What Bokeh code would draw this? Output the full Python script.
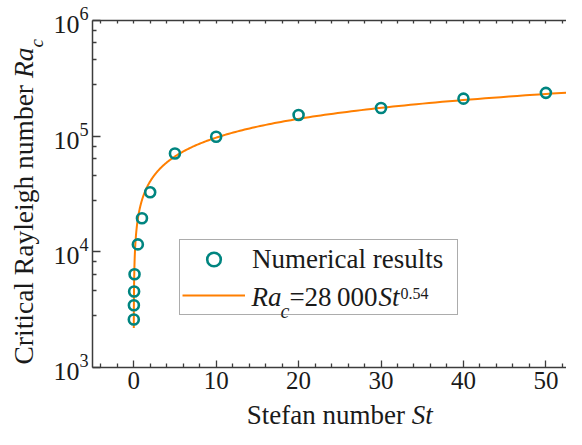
import numpy as np
from bokeh.plotting import figure
from bokeh.layouts import row, column
from bokeh.models import (FixedTicker, LinearAxis, Label, Legend, LegendItem,
                          LogTickFormatter)
from bokeh.embed import file_html
from bokeh.resources import INLINE

# ---------------- data ----------------
ST = [0.01, 0.02, 0.05, 0.1, 0.5, 1, 2, 5, 10, 20, 30, 40, 50]
RA = [2600, 3450, 4540, 6400, 11600, 19500, 32700, 70900, 98800,
      152500, 175300, 211000, 236800]
FIT_COEF = 28000
FIT_EXP = 0.54
FIT_ST_MIN = 0.009
FIT_ST_MAX = 53.0
X_TICKS = [0, 10, 20, 30, 40, 50]
X_MINOR = [-4, -2, 2, 4, 6, 8, 12, 14, 16, 18, 22, 24, 26, 28, 32, 34, 36, 38,
           42, 44, 46, 48, 52]
X_TOP = [-4, -2] + list(range(0, 53, 2))
Y_TICKS = [1e3, 1e4, 1e5, 1e6]
X_START, X_END = -5, 52.5
Y_START, Y_END = 1e3, 1e6

FONT = "Liberation Serif"
TXT = "#1a1a1a"
AX = "#3c3c3c"
TEAL = "#008580"
ORANGE = "#ff7f00"

# ---------------- layout sizes ----------------
W, H = 566, 429
LW = 48                 # left strip for y-axis title
MW = W - LW
MH = 399                # main plot height
BH = H - MH             # bottom strip for x-axis title
FRAME_L = 92 - LW
FRAME_T = 20
FRAME_B = 32
MID = 0.3375            # baseline offset of a "middle"-anchored text, in em

# minor log ticks (4 linear subdivisions per decade)
Y_MINOR = [d * (1 + 1.8 * k) for d in Y_TICKS[:-1] for k in range(1, 5)]

fit_st = np.geomspace(FIT_ST_MIN, FIT_ST_MAX, 400)
fit_ra = FIT_COEF * fit_st ** FIT_EXP

p = figure(width=MW, height=MH, x_range=(X_START, X_END),
           y_range=(Y_START, Y_END), y_axis_type="log",
           output_backend="svg", toolbar_location=None,
           min_border_left=FRAME_L, min_border_right=0, min_border_top=FRAME_T,
           min_border_bottom=FRAME_B, frame_align=False)
p.title.visible = False
p.outline_line_color = None
p.xgrid.visible = False
p.ygrid.visible = False

line_r = p.line(fit_st, fit_ra, line_color=ORANGE, line_width=2)
sc_r = p.scatter(ST, RA, marker="circle", size=10, fill_color=None,
                 line_color=TEAL, line_width=2.6)

# bottom axis
xa = p.xaxis[0]
xa.ticker = FixedTicker(ticks=X_TICKS, minor_ticks=X_MINOR)
xa.major_tick_in = 7
xa.major_tick_out = 0
xa.minor_tick_in = 4
xa.minor_tick_out = 0
xa.axis_line_width = 1.5
xa.axis_line_color = AX
xa.major_tick_line_color = AX
xa.minor_tick_line_color = AX
xa.major_tick_line_width = 1.3
xa.minor_tick_line_width = 1.3
xa.major_label_text_font = FONT
xa.major_label_text_font_size = "25px"
xa.major_label_text_color = TXT
xa.major_label_standoff = 4

# left axis
ya = p.yaxis[0]
ya.ticker = FixedTicker(ticks=Y_TICKS, minor_ticks=Y_MINOR)
ya.formatter = LogTickFormatter()
ya.major_tick_in = 8
ya.major_tick_out = 0
ya.minor_tick_in = 4
ya.minor_tick_out = 0
ya.axis_line_width = 1.5
ya.axis_line_color = AX
ya.major_tick_line_color = AX
ya.minor_tick_line_color = AX
ya.major_tick_line_width = 1.3
ya.minor_tick_line_width = 1.3
ya.major_label_text_font = FONT
ya.major_label_text_font_size = "26px"
ya.major_label_text_color = TXT
ya.major_label_standoff = 4

# top axis (ticks only)
top = LinearAxis(ticker=FixedTicker(ticks=X_TOP),
                 major_tick_in=3, major_tick_out=0, minor_tick_in=0, minor_tick_out=0,
                 major_label_text_font_size="0px", major_label_standoff=0,
                 axis_line_width=1.5, axis_line_color=AX, major_tick_line_color=AX,
                 major_tick_line_width=1.3)
top.major_label_overrides = {t: "" for t in X_TOP}
p.add_layout(top, "above")

# ---- text widths (Times metrics) for composing mixed-style labels ----
W_REG = {'C': .667, 'r': .333, 'i': .278, 't': .278, 'c': .444, 'a': .444, 'l': .278,
         ' ': .25, 'R': .667, 'y': .5, 'e': .444, 'g': .5, 'h': .5, 'n': .5, 'u': .5,
         'm': .778, 'b': .5, 'S': .556, 'f': .333, '=': .564, '.': .25,
         '0': .5, '2': .5, '8': .5, '5': .5, '4': .5, '\u2009': .2}
W_IT = {'R': .611, 'a': .5, 'c': .444, 'S': .5, 't': .278}


def tw(s, size, italic=False):
    tab = W_IT if italic else W_REG
    return sum(tab.get(ch, .5) for ch in s) * size


def lab(text, x, y, size, italic=False, angle=0.0, xo=0, yo=0, level="annotation"):
    return Label(x=x, y=y, x_offset=xo, y_offset=yo, text=text,
                 text_font=FONT, text_font_size=f"{size}px",
                 text_font_style="italic" if italic else "normal",
                 text_color=TXT, text_align="left", text_baseline="middle",
                 angle=angle, level=level)


# legend (transparent background so the formula text drawn in it shows)
LEG_X, LEG_Y = 87, 52
PAD, GW, STANDOFF, ROWH, SP = 2, 63, 7, 34, 2
legend = Legend(items=[LegendItem(label="Numerical results", renderers=[sc_r]),
                       LegendItem(label=" ", renderers=[line_r])],
                location=(LEG_X, LEG_Y), orientation="vertical",
                padding=PAD, spacing=SP, margin=0,
                glyph_width=GW, glyph_height=ROWH, label_height=ROWH,
                label_width=203, label_standoff=STANDOFF,
                label_text_font=FONT, label_text_font_size="27px",
                label_text_color=TXT,
                border_line_color="#5a5a5a", border_line_width=1.5,
                background_fill_alpha=0.0)
p.add_layout(legend, "center")

# formula text in legend: Ra_c = 28 000 St^0.54
FS, FSUB, FSUP = 27, 20, 16
fx = LEG_X + PAD + GW + STANDOFF
base = LEG_Y + PAD + ROWH / 2 - MID * FS          # baseline height above frame bottom
OV = "overlay"


def flab(text, xo, bl, size, italic=False):
    return lab(text, X_START, Y_START, size, italic=italic, xo=xo,
               yo=bl + MID * size, level=OV)


p.add_layout(flab("Ra", fx, base, FS, True))
fx2 = fx + tw("Ra", FS, True) - 1
p.add_layout(flab("c", fx2, base - 12, FSUB, True))
fx3 = fx2 + tw("c", FSUB, True)
p.add_layout(flab("=28\u2009000", fx3, base, FS))
fx4 = fx3 + tw("=28\u2009000", FS) + 1
p.add_layout(flab("St", fx4, base, FS, True))
fx5 = fx4 + tw("St", FS, True) + 1
p.add_layout(flab("0.54", fx5, base + 7, FSUP))

# ---------------- left strip: y-axis title ----------------
left = figure(width=LW, height=H, x_range=(0, LW), y_range=(0, H),
              x_axis_location=None, y_axis_location=None, min_border=0,
              output_backend="svg", toolbar_location=None, frame_align=False)
left.title.visible = False
left.outline_line_color = None
left.grid.visible = False
YS, YSUB = 27.5, 19
yb_x = 32                      # baseline position (px from left)
yb_y = H - 364                 # start of text (px from bottom)
part1 = "Critical Rayleigh number "
left.add_layout(lab(part1, yb_x - MID * YS, yb_y, YS, angle=np.pi / 2))
o = yb_y + tw(part1, YS)
left.add_layout(lab("Ra", yb_x - MID * YS, o, YS, italic=True, angle=np.pi / 2))
o += tw("Ra", YS, True)
left.add_layout(lab("c", yb_x + 10 - MID * YSUB, o, YSUB, italic=True, angle=np.pi / 2))

# ---------------- bottom strip: x-axis title ----------------
px_per_unit = (MW - FRAME_L) / (X_END - X_START)
bottom = figure(width=MW, height=BH, x_range=(0, MW), y_range=(0, BH),
                x_axis_location=None, y_axis_location=None, min_border=0,
                output_backend="svg", toolbar_location=None, frame_align=False)
bottom.title.visible = False
bottom.outline_line_color = None
bottom.grid.visible = False
XS = 27
xl1 = "Stefan number "
total = tw(xl1, XS) + tw("St", XS, True)
xc = FRAME_L + (25 - X_START) * px_per_unit
x0 = xc - total / 2
xb = BH / 2                     # text centred in the strip
bottom.add_layout(lab(xl1, x0, xb, XS))
bottom.add_layout(lab("St", x0 + tw(xl1, XS), xb, XS, italic=True))

layout = row(left, column(p, bottom, spacing=0), spacing=0)
open("out.html", "w").write(file_html(layout, INLINE))
